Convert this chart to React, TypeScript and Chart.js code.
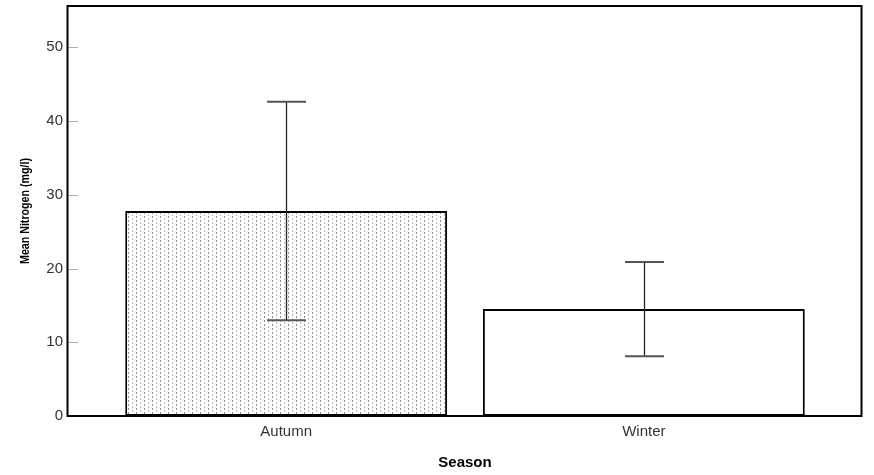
import React, { useEffect, useRef } from "react";
import { Chart, registerables } from "chart.js";

Chart.register(...registerables);

const categories = ["Autumn", "Winter"];
const meanValues = [27.8, 14.5];
const errLow = [13.0, 8.1];
const errHigh = [42.6, 20.9];
const yTicks = [0, 10, 20, 30, 40, 50];
const yMax = 55.6;
const yTitle = "Mean Nitrogen (mg/l)";
const xTitle = "Season";

function makePattern(): CanvasPattern | string {
  const c = document.createElement("canvas");
  c.width = 8;
  c.height = 4;
  const g = c.getContext("2d");
  if (!g) return "#ddd";
  g.fillStyle = "#ffffff";
  g.fillRect(0, 0, 8, 4);
  g.fillStyle = "#8c8c8c";
  g.fillRect(0, 0, 1, 2);
  g.fillStyle = "#bdbdbd";
  g.fillRect(4, 2, 1, 2);
  const p = g.createPattern(c, "repeat");
  return p || "#ddd";
}

const framePlugin = {
  id: "frameAndErrors",
  afterDatasetsDraw(chart: any) {
    const { ctx, chartArea, scales } = chart;
    const xs = scales.x;
    const ys = scales.y;
    ctx.save();
    // inner tick marks
    ctx.strokeStyle = "#b0b0b0";
    ctx.lineWidth = 1;
    yTicks.forEach((t) => {
      const py = Math.round(ys.getPixelForValue(t)) + 0.5;
      ctx.beginPath();
      ctx.moveTo(chartArea.left, py);
      ctx.lineTo(chartArea.left + 10, py);
      ctx.stroke();
    });
    // error bars
    categories.forEach((_, i) => {
      const cx = Math.round(xs.getPixelForValue(i)) + 0.5;
      const yl = ys.getPixelForValue(errLow[i]);
      const yh = ys.getPixelForValue(errHigh[i]);
      ctx.strokeStyle = "#222";
      ctx.lineWidth = 1.3;
      ctx.beginPath();
      ctx.moveTo(cx, yl);
      ctx.lineTo(cx, yh);
      ctx.stroke();
      ctx.strokeStyle = "#555";
      ctx.lineWidth = 2;
      [yl, yh].forEach((py) => {
        ctx.beginPath();
        ctx.moveTo(cx - 19.5, py);
        ctx.lineTo(cx + 19.5, py);
        ctx.stroke();
      });
    });
    // frame
    ctx.strokeStyle = "#000";
    ctx.lineWidth = 2;
    ctx.strokeRect(
      chartArea.left - 0.5,
      chartArea.top,
      chartArea.right - chartArea.left,
      chartArea.bottom - chartArea.top
    );
    // y title (narrow bold)
    const cy = (chartArea.top + chartArea.bottom) / 2;
    ctx.translate(25, cy);
    ctx.rotate(-Math.PI / 2);
    ctx.scale(0.82, 1);
    ctx.fillStyle = "#000";
    ctx.font = "bold 13px 'Liberation Sans', Arial, sans-serif";
    ctx.textAlign = "center";
    ctx.textBaseline = "middle";
    ctx.fillText(yTitle, 0, 0);
    ctx.restore();
  },
};

export default function App() {
  const ref = useRef<HTMLCanvasElement | null>(null);
  useEffect(() => {
    if (!ref.current) return;
    const pattern = makePattern();
    const chart = new Chart(ref.current, {
      type: "bar",
      data: {
        datasets: [
          {
            data: meanValues.map((v, i) => ({ x: i, y: v })),
            backgroundColor: [pattern, "#ffffff"],
            borderColor: "#000",
            borderWidth: 2,
            borderSkipped: false,
            barPercentage: 0.9,
            categoryPercentage: 1,
          },
        ],
      },
      options: {
        responsive: false,
        animation: false,
        events: [],
        layout: { padding: { top: 6, right: 12, left: 0, bottom: 0 } },
        plugins: { legend: { display: false }, tooltip: { enabled: false } },
        scales: {
          x: {
            type: "linear",
            min: -0.61,
            max: 1.61,
            offset: false,
            grid: { display: false, drawTicks: false, offset: false },
            border: { display: false },
            afterBuildTicks: (s: any) => {
              s.ticks = categories.map((_, i) => ({ value: i }));
            },
            afterFit: (s: any) => {
              s.height = 59;
              s.paddingLeft = 0;
              s.paddingRight = 0;
            },
            ticks: {
              padding: 7,
              color: "#333",
              font: { family: "'Liberation Sans', Arial, sans-serif", size: 15 },
              callback: (v: any) => categories[v as number] ?? "",
              maxRotation: 0,
              autoSkip: false,
            },
            title: {
              display: true,
              text: xTitle,
              color: "#000",
              font: { family: "'Liberation Sans', Arial, sans-serif", size: 15, weight: "bold" },
              padding: { top: 0, bottom: 3.5 },
            },
          },
          y: {
            min: 0,
            max: yMax,
            grid: { display: false, drawTicks: false },
            border: { display: false },
            afterBuildTicks: (s: any) => {
              s.ticks = yTicks.map((v) => ({ value: v }));
            },
            afterFit: (s: any) => {
              s.width = 68;
              s.paddingTop = 0;
              s.paddingBottom = 0;
            },
            ticks: {
              padding: 5,
              color: "#333",
              font: { family: "'Liberation Sans', Arial, sans-serif", size: 15 },
            },
          },
        },
      },
      plugins: [framePlugin],
    } as any);
    return () => chart.destroy();
  }, []);
  return (
    <div style={{ position: "absolute", left: 0, top: 0, width: 874, height: 475, background: "#fff" }}>
      <canvas ref={ref} width={874} height={475} />
    </div>
  );
}
